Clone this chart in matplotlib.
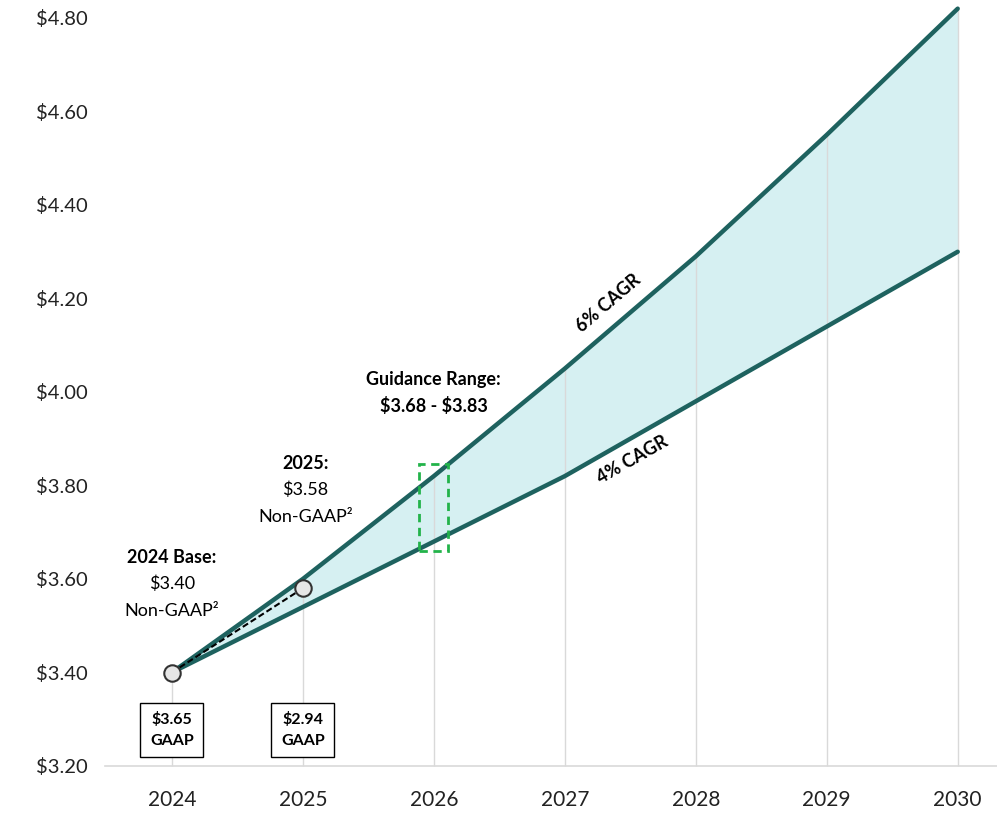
import numpy as np
import matplotlib
matplotlib.use("Agg")
import matplotlib.pyplot as plt
from matplotlib.patches import Rectangle

plt.rcParams['font.family'] = ['Lato', 'DejaVu Sans']

years = [2024, 2025, 2026, 2027, 2028, 2029, 2030]
high_6pct = [3.40, 3.60, 3.82, 4.05, 4.29, 4.55, 4.82]
low_4pct = [3.40, 3.54, 3.68, 3.82, 3.98, 4.14, 4.30]
actual_years = [2024, 2025]
actual_eps = [3.40, 3.58]
gaap_eps = ["3.65", "2.94"]
guidance = [3.68, 3.83]
y_ticks = [3.20, 3.40, 3.60, 3.80, 4.00, 4.20, 4.40, 4.60, 4.80]

line_col = '#1e625f'
fill_col = '#d6f0f2'
grid_col = '#d9d9d9'

fig = plt.figure(figsize=(9.97, 8.14), dpi=100)
ax = fig.add_axes([105 / 997, 48 / 814, 892 / 997, 748 / 814])

ax.fill_between(years, low_4pct, high_6pct, color=fill_col, zorder=1, lw=0, clip_on=False)
ax.vlines(years, 3.20, high_6pct, colors=grid_col, lw=1, zorder=2, clip_on=False)
ax.plot(years, high_6pct, color=line_col, lw=3.2, zorder=3, solid_capstyle='round', clip_on=False)
ax.plot(years, low_4pct, color=line_col, lw=3.2, zorder=3, solid_capstyle='round', clip_on=False)

ax.plot(actual_years, actual_eps, color='black', ls=(0, (3, 1.5)), lw=1.5, zorder=4)
ax.scatter(actual_years, actual_eps, s=140, facecolor='#e6e6e6', edgecolor='#333333',
           lw=1.5, zorder=5)

# guidance box around 2026
ax.add_patch(Rectangle((2025.89, guidance[0] - 0.02), 0.22, guidance[1] - guidance[0] + 0.035,
                       fill=False, edgecolor='#22b34a', lw=2, ls=(0, (3, 2)), zorder=6))

ax.set_xlim(2023.49, 2030.3)
ax.set_ylim(3.20, 4.80)
ax.set_xticks(years)
ax.set_xticklabels([str(y) for y in years], fontsize=15)
ax.set_yticks(y_ticks)
ax.set_yticklabels([f"${v:.2f}" for v in y_ticks], fontsize=14.5)
ax.tick_params(axis='both', length=0, colors='#222222')
ax.tick_params(axis='x', pad=17)
ax.tick_params(axis='y', pad=50)
for lbl in ax.get_yticklabels():
    lbl.set_horizontalalignment('left')
for s in ['top', 'right', 'left']:
    ax.spines[s].set_visible(False)
ax.spines['bottom'].set_color(grid_col)
ax.spines['bottom'].set_linewidth(1.2)

# annotations
fs = 13
ax.text(2024.0, 3.647, "2024 Base:", ha='center', va='center', fontsize=fs, fontweight='bold')
ax.text(2024.0, 3.589, "$3.40", ha='center', va='center', fontsize=fs)
ax.text(2024.0, 3.532, "Non-GAAP²", ha='center', va='center', fontsize=fs)
ax.text(2025.02, 3.848, "2025:", ha='center', va='center', fontsize=fs, fontweight='bold')
ax.text(2025.02, 3.790, "$3.58", ha='center', va='center', fontsize=fs)
ax.text(2025.02, 3.733, "Non-GAAP²", ha='center', va='center', fontsize=fs)
ax.text(2026.0, 4.026, "Guidance Range:", ha='center', va='center', fontsize=fs, fontweight='bold')
ax.text(2026.0, 3.970, f"\\${guidance[0]:.2f} - \\${guidance[1]:.2f}", ha='center', va='center',
        fontsize=fs, fontweight='bold')

for yr, g in zip(actual_years, gaap_eps):
    ax.text(yr, 3.277, f"\\${g}\nGAAP", ha='center', va='center', fontsize=11.5, fontweight='bold',
            linespacing=1.6, zorder=7,
            bbox=dict(boxstyle='square,pad=0.6', facecolor='white', edgecolor='black', lw=1))

# rotated CAGR labels following line slopes
def slope_angle(x0, y0, x1, y1):
    p0 = ax.transData.transform((x0, y0))
    p1 = ax.transData.transform((x1, y1))
    return np.degrees(np.arctan2(p1[1] - p0[1], p1[0] - p0[0]))

a6 = slope_angle(years[3], high_6pct[3], years[4], high_6pct[4])
a4 = slope_angle(years[3], low_4pct[3], years[4], low_4pct[4])
ax.text(2027.33, 4.19, "6% CAGR", rotation=a6, ha='center', va='center',
        fontsize=fs, fontweight='bold', rotation_mode='anchor')
ax.text(2027.52, 3.855, "4% CAGR", rotation=a4, ha='center', va='center',
        fontsize=fs, fontweight='bold', rotation_mode='anchor')

fig.savefig("out.png", dpi=100)
